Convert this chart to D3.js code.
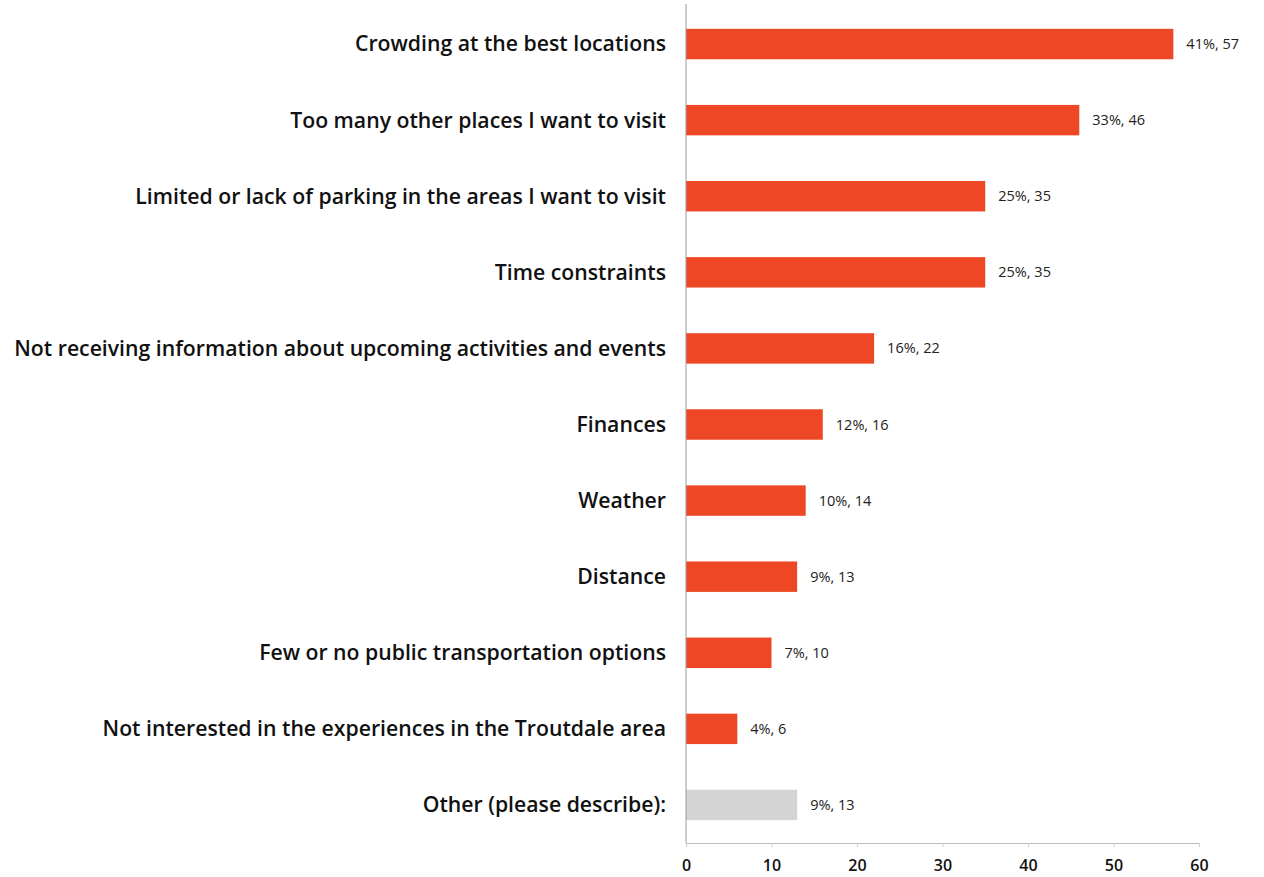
<!DOCTYPE html>
<html>
<head>
<meta charset="utf-8">
<script src="https://cdn.jsdelivr.net/npm/d3@7"></script>
<style>
  html, body { margin: 0; padding: 0; background: #fff; }
  svg { display: block; }
</style>
</head>
<body>
<svg id="chart" width="1264" height="877"></svg>
<script>
// Survey responses: barriers to visiting
const categories = [
  "Crowding at the best locations",
  "Too many other places I want to visit",
  "Limited or lack of parking in the areas I want to visit",
  "Time constraints",
  "Not receiving information about upcoming activities and events",
  "Finances",
  "Weather",
  "Distance",
  "Few or no public transportation options",
  "Not interested in the experiences in the Troutdale area",
  "Other (please describe):"
];
const counts   = [57, 46, 35, 35, 22, 16, 14, 13, 10, 6, 13];
const percents = [41, 33, 25, 25, 16, 12, 10, 9, 7, 4, 9];
const xTicks   = [0, 10, 20, 30, 40, 50, 60];

const rows = categories.map((c, i) => ({ label: c, count: counts[i], pct: percents[i] }));

const svg = d3.select("#chart");
const x0 = 686, x1 = 1199, yTop = 6, yBottom = 843;
const labelFont = "'Open Sans', sans-serif";

const x = d3.scaleLinear().domain([0, 60]).range([x0, x1]);
const y = d3.scaleBand().domain(categories).range([yTop, yBottom])
  .paddingInner(0.6).paddingOuter(0.3);

// bars
svg.append("g").selectAll("rect").data(rows).join("rect")
  .attr("x", x(0))
  .attr("y", d => y(d.label))
  .attr("width", d => x(d.count) - x(0))
  .attr("height", y.bandwidth())
  .attr("fill", d => d.label.startsWith("Other") ? "#d4d4d4" : "#ee4725");

// vertical baseline
svg.append("line")
  .attr("x1", x0).attr("x2", x0)
  .attr("y1", 4).attr("y2", yBottom)
  .attr("stroke", "#9a9a9a").attr("stroke-width", 1);

// bottom axis
const axis = svg.append("g")
  .attr("transform", `translate(0,${yBottom})`)
  .call(d3.axisBottom(x).tickValues(xTicks).tickSize(4).tickSizeOuter(0));
axis.select(".domain").attr("stroke", "#bdbdbd");
axis.selectAll(".tick line").attr("stroke", "#cfcfcf");
axis.selectAll(".tick text")
  .attr("dy", 0).attr("y", 28)
  .attr("fill", "#111")
  .style("font-family", labelFont)
  .style("font-weight", "600")
  .style("font-size", "16px");

// category labels
const catLabels = svg.append("g").selectAll("text").data(rows).join("text")
  .attr("x", 666)
  .attr("y", d => y(d.label) + y.bandwidth() / 2)
  .attr("dy", "0.35em")
  .attr("text-anchor", "end")
  .attr("fill", "#111")
  .style("font-family", labelFont)
  .style("font-weight", "600")
  .style("font-size", "19px")
  .text(d => d.label);

// size the labels so the longest one starts near the left edge
const longest = d3.max(catLabels.nodes(), n => n.getComputedTextLength());
const fitSize = 19 * 652 / longest;
catLabels.style("font-size", fitSize.toFixed(2) + "px");

// value labels
svg.append("g").selectAll("text").data(rows).join("text")
  .attr("x", d => x(d.count) + 13)
  .attr("y", d => y(d.label) + y.bandwidth() / 2)
  .attr("dy", "0.35em")
  .attr("fill", "#222")
  .style("font-family", labelFont)
  .style("font-size", "14.5px")
  .text(d => `${d.pct}%, ${d.count}`);
</script>
</body>
</html>
